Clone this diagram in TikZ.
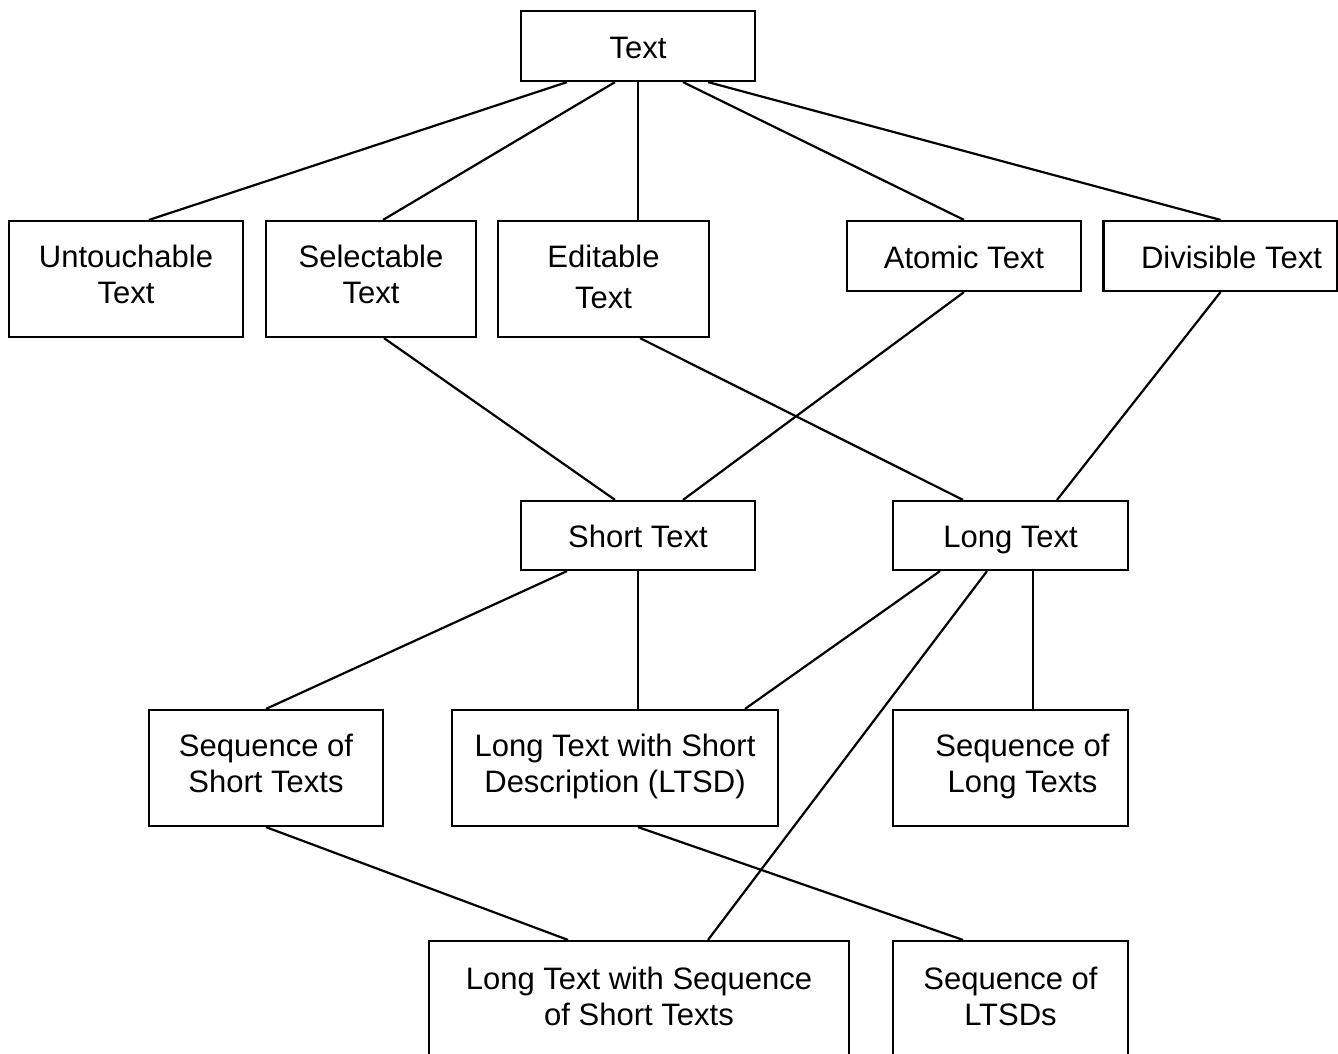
\documentclass[tikz,border=0pt]{standalone}
\usepackage{fontspec}
\setmainfont{Liberation Sans}
\usetikzlibrary{calc}
\begin{document}
\begin{tikzpicture}[x=1pt,y=-1pt,
  box/.style={draw, line width=2.2pt, rectangle, inner sep=0pt, align=center,
    font=\fontsize{31}{36}\selectfont},
  oneline/.style={box, text height=24pt, text depth=0pt},
  twoline/.style={box, text height=49pt, text depth=0pt},
  link/.style={line width=2.2pt}]
\useasboundingbox (0,0) rectangle (1338,1053);
\clip (0,0) rectangle (1338,1053);

% top level
\node[oneline, minimum width=234pt, minimum height=70pt] (text) at (638,46) {Text};

% second level
\node[twoline, minimum width=234pt, minimum height=116pt] (unt) at (126,279) {Untouchable\\Text};
\node[twoline, minimum width=210pt, minimum height=116pt] (sel) at (371,279) {Selectable\\Text};
\node[box, text height=58pt, text depth=0pt, minimum width=211pt, minimum height=116pt] (edit) at (603.5,279) {Editable\\[5pt]Text};
\node[oneline, minimum width=234pt, minimum height=70pt] (atom) at (964,256) {Atomic Text};
\node[oneline, minimum width=234pt, minimum height=70pt] (div) at (1220.5,256) {\hspace*{22pt}Divisible Text};

% third level
\node[oneline, minimum width=234pt, minimum height=69pt] (short) at (638,535.5) {Short Text};
\node[oneline, minimum width=235pt, minimum height=69pt] (long) at (1010.5,535.5) {Long Text};

% fourth level
\node[twoline, minimum width=234pt, minimum height=116pt] (seqshort) at (266,768) {Sequence of\\Short Texts};
\node[twoline, minimum width=326pt, minimum height=116pt] (ltsd) at (615,768) {Long Text with Short\\Description (LTSD)};
\node[twoline, minimum width=235pt, minimum height=116pt] (seqlong) at (1010.5,768) {\hspace*{24pt}Sequence of\\\hspace*{24pt}Long Texts};

% fifth level
\node[twoline, text height=52pt, minimum width=420pt, minimum height=116pt] (ltseq) at (639,999) {Long Text with Sequence\\of Short Texts};
\node[twoline, text height=52pt, minimum width=235pt, minimum height=116pt] (seqltsd) at (1010.5,999) {Sequence of\\LTSDs};

% connectors
\draw[link] ($(text.south)+(-71,0)$) -- ($(unt.north)+(23,0)$);
\draw[link] ($(text.south)+(-23,0)$) -- ($(sel.north)+(12,0)$);
\draw[link] (text.south) -- (text.south |- edit.north);
\draw[link] ($(text.south)+(45,0)$) -- (atom.north);
\draw[link] ($(text.south)+(70,0)$) -- (div.north);

\draw[link] ($(sel.south)+(13,0)$) -- ($(short.north)+(-23,0)$);
\draw[link] ($(edit.south)+(36.5,0)$) -- ($(long.north)+(-47.5,0)$);
\draw[link] (atom.south) -- ($(short.north)+(45,0)$);
\draw[link] (div.south) -- ($(long.north)+(46.5,0)$);

\draw[link] ($(short.south)+(-71,0)$) -- (seqshort.north);
\draw[link] (short.south) -- ($(ltsd.north)+(23,0)$);
\draw[link] ($(long.south)+(-70.5,0)$) -- ($(ltsd.north)+(130,0)$);
\draw[link] ($(long.south)+(-23.5,0)$) -- ($(ltseq.north)+(69,0)$);
\draw[link] ($(long.south)+(22.5,0)$) -- ($(seqlong.north)+(22.5,0)$);

\draw[link] (seqshort.south) -- ($(ltseq.north)+(-71,0)$);
\draw[link] ($(ltsd.south)+(23,0)$) -- ($(seqltsd.north)+(-47.5,0)$);
\end{tikzpicture}
\end{document}
